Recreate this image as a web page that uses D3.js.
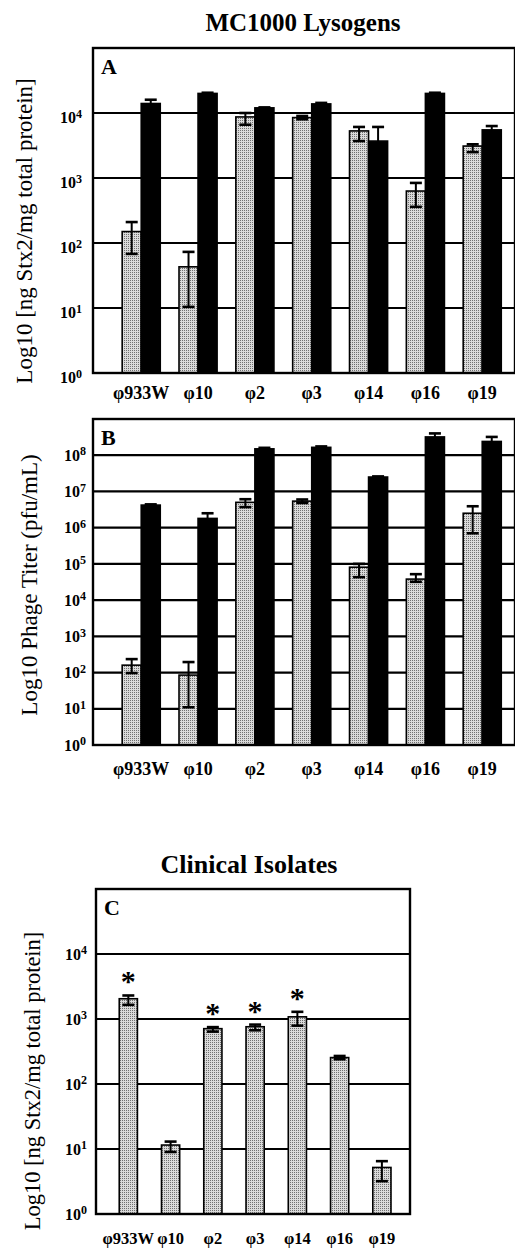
<!DOCTYPE html>
<html>
<head>
<meta charset="utf-8">
<script src="https://cdn.jsdelivr.net/npm/d3@7"></script>
<style>
body { margin: 0; background: #fff; }
text { font-family: "Liberation Serif", "Times New Roman", serif; fill: #000; }
</style>
</head>
<body>
<svg id="fig" width="515" height="1249"></svg>
<script>
// phage names along the x axis (same in all three panels)
var phages = ["\u03c6933W", "\u03c610", "\u03c62", "\u03c63", "\u03c614", "\u03c616", "\u03c619"];

// A: Stx2 (ng/mg total protein), MC1000 lysogens; gray = uninduced, black = induced
var stxGray   = [150, 43, 8700, 8500, 5300, 630, 3100];
var stxGrayLo = [68, 10.4, 6600, 8000, 3700, 360, 2500];
var stxGrayHi = [210, 73, 10000, 9000, 6100, 840, 3300];
var stxBlack   = [14000, 20000, 12000, 13800, 3700, 20000, 5500];
var stxBlackLo = [12000, 19500, 11800, 13300, 1300, 19500, 4700];
var stxBlackHi = [16000, 20500, 12200, 14300, 6100, 20500, 6300];

// B: phage titer (pfu/mL)
var titerGray   = [160, 85, 5.0e6, 5.4e6, 8.1e4, 3.8e4, 2.5e6];
var titerGrayLo = [97, 11, 3.7e6, 4.8e6, 4.3e4, 3.2e4, 7.0e5];
var titerGrayHi = [235, 195, 6.1e6, 6.0e6, 1.0e5, 5.2e4, 3.9e6];
var titerBlack   = [4.2e6, 1.8e6, 1.5e8, 1.65e8, 2.5e7, 3.2e8, 2.4e8];
var titerBlackLo = [4.0e6, 1.1e6, 1.4e8, 1.55e8, 2.4e7, 2.4e8, 1.6e8];
var titerBlackHi = [4.4e6, 2.5e6, 1.6e8, 1.75e8, 2.6e7, 4.0e8, 3.2e8];

// C: Stx2 of the clinical isolates
var clinStx   = [2050, 11.5, 710, 760, 1080, 255, 5.2];
var clinStxLo = [1650, 9, 640, 670, 790, 240, 3.2];
var clinStxHi = [2300, 13, 750, 820, 1290, 270, 6.5];
var clinSignif = [true, false, true, true, true, false, false];

var svg = d3.select("#fig");

// stippled gray fill like the scanned bars
var pat = svg.append("defs").append("pattern")
    .attr("id", "stipple")
    .attr("width", 2).attr("height", 2)
    .attr("patternUnits", "userSpaceOnUse");
pat.append("rect").attr("width", 2).attr("height", 2).attr("fill", "#dadada");
pat.append("rect").attr("width", 1).attr("height", 1).attr("fill", "#707070");

function drawPanel(p) {
    var g = svg.append("g");

    var x = d3.scaleBand()
        .domain(phages)
        .range([p.left, p.right])
        .paddingInner(p.padInner)
        .paddingOuter(p.padOuter)
        .align(p.align);

    var y = d3.scaleLog()
        .domain([1, Math.pow(10, p.maxExp)])
        .range([p.bottom, p.top]);

    var xs = d3.scaleBand()
        .domain(d3.range(p.series.length))
        .range([0, x.bandwidth()]);

    // decade gridlines
    var decades = d3.range(1, p.maxExp).map(function(e) { return Math.pow(10, e); });
    g.selectAll(".grid")
        .data(decades)
        .enter().append("line")
        .attr("x1", p.left).attr("x2", p.right)
        .attr("y1", function(d) { return y(d); })
        .attr("y2", function(d) { return y(d); })
        .attr("stroke", "#000")
        .attr("stroke-width", 2.2);

    p.series.forEach(function(s, si) {
        var rows = phages.map(function(name, i) {
            return { name: name, v: s.values[i], lo: s.lo[i], hi: s.hi[i] };
        });

        g.selectAll(".bar" + si)
            .data(rows)
            .enter().append("rect")
            .attr("x", function(d) { return x(d.name) + xs(si); })
            .attr("width", xs.bandwidth())
            .attr("y", function(d) { return y(d.v); })
            .attr("height", function(d) { return y(1) - y(d.v); })
            .attr("fill", s.fill)
            .attr("stroke", "#000")
            .attr("stroke-width", 1.6);

        var cx = function(d) { return x(d.name) + xs(si) + xs.bandwidth() / 2; };
        var eb = g.selectAll(".err" + si)
            .data(rows)
            .enter().append("g");
        eb.append("line")
            .attr("x1", cx).attr("x2", cx)
            .attr("y1", function(d) { return y(d.lo); })
            .attr("y2", function(d) { return y(d.hi); })
            .attr("stroke", "#000").attr("stroke-width", 2);
        ["lo", "hi"].forEach(function(k) {
            eb.append("line")
                .attr("x1", function(d) { return cx(d) - 6; })
                .attr("x2", function(d) { return cx(d) + 6; })
                .attr("y1", function(d) { return y(d[k]); })
                .attr("y2", function(d) { return y(d[k]); })
                .attr("stroke", "#000").attr("stroke-width", 2.6);
        });

        // asterisks over significant bars
        if (s.signif) {
            g.selectAll(".star")
                .data(rows.filter(function(d, i) { return s.signif[i]; }))
                .enter().append("text")
                .attr("x", cx)
                .attr("y", function(d) { return y(d.hi) - 4; })
                .attr("text-anchor", "middle")
                .style("font-size", "30px")
                .style("font-weight", "bold")
                .text("*");
        }
    });

    // frame
    g.append("rect")
        .attr("x", p.left).attr("y", p.top)
        .attr("width", p.right - p.left).attr("height", p.bottom - p.top)
        .attr("fill", "none")
        .attr("stroke", "#000")
        .attr("stroke-width", 2.4);

    // y axis: powers of ten
    var yAxis = g.append("g")
        .attr("transform", "translate(" + p.left + ",0)")
        .call(d3.axisLeft(y)
            .tickValues(d3.range(0, p.maxExp).map(function(e) { return Math.pow(10, e); }))
            .tickSize(0)
            .tickPadding(p.tickPad));
    yAxis.select(".domain").remove();
    yAxis.selectAll(".tick text").each(function(d) {
        var t = d3.select(this)
            .text(null)
            .attr("fill", "#000")
            .attr("dy", p.tickDy)
            .style("font-size", "16px")
            .style("font-weight", "bold");
        t.append("tspan").text("10");
        t.append("tspan")
            .attr("dy", "-0.45em")
            .style("font-size", "12px")
            .text(Math.round(Math.log10(d)));
    });

    // x axis: phage names
    var xAxis = g.append("g")
        .attr("transform", "translate(0," + p.bottom + ")")
        .call(d3.axisBottom(x).tickSize(0).tickPadding(p.xPad));
    xAxis.select(".domain").remove();
    xAxis.selectAll(".tick text")
        .attr("fill", "#000")
        .style("font-size", p.xSize + "px")
        .style("font-weight", "bold");

    // panel letter
    g.append("text")
        .attr("x", p.left + 8)
        .attr("y", p.top + 26)
        .style("font-size", "22px")
        .style("font-weight", "bold")
        .text(p.letter);

    // y axis title
    g.append("text")
        .attr("transform", "translate(" + p.labelX + "," + p.labelY + ") rotate(-90)")
        .attr("text-anchor", "middle")
        .style("font-size", p.labelSize + "px")
        .text(p.ylabel);
}

svg.append("text")
    .attr("x", 303).attr("y", 31)
    .attr("text-anchor", "middle")
    .style("font-size", "25px")
    .style("font-weight", "bold")
    .text("MC1000 Lysogens");

drawPanel({
    letter: "A", left: 93, right: 515, top: 48, bottom: 373, maxExp: 5,
    padInner: 0.33, padOuter: 0.3775, align: 0.68,
    tickPad: 11, tickDy: "0.62em", xPad: 13, xSize: 18,
    ylabel: "Log10 [ng Stx2/mg total protein]", labelX: 32, labelY: 231, labelSize: 23,
    series: [
        { values: stxGray, lo: stxGrayLo, hi: stxGrayHi, fill: "url(#stipple)" },
        { values: stxBlack, lo: stxBlackLo, hi: stxBlackHi, fill: "#000" }
    ]
});

drawPanel({
    letter: "B", left: 93, right: 515, top: 419, bottom: 745, maxExp: 9,
    padInner: 0.33, padOuter: 0.3775, align: 0.68,
    tickPad: 7, tickDy: "0.32em", xPad: 17, xSize: 18,
    ylabel: "Log10 Phage Titer (pfu/mL)", labelX: 37, labelY: 585, labelSize: 23,
    series: [
        { values: titerGray, lo: titerGrayLo, hi: titerGrayHi, fill: "url(#stipple)" },
        { values: titerBlack, lo: titerBlackLo, hi: titerBlackHi, fill: "#000" }
    ]
});

svg.append("text")
    .attr("x", 249).attr("y", 873)
    .attr("text-anchor", "middle")
    .style("font-size", "26px")
    .style("font-weight", "bold")
    .text("Clinical Isolates");

drawPanel({
    letter: "C", left: 96, right: 410, top: 889, bottom: 1214, maxExp: 5,
    padInner: 0.57, padOuter: 0.5, align: 0.55,
    tickPad: 9, tickDy: "0.32em", xPad: 18, xSize: 16.5,
    ylabel: "Log10 [ng Stx2/mg total protein]", labelX: 40, labelY: 1081, labelSize: 22.5,
    series: [
        { values: clinStx, lo: clinStxLo, hi: clinStxHi, fill: "url(#stipple)", signif: clinSignif }
    ]
});
</script>
</body>
</html>
